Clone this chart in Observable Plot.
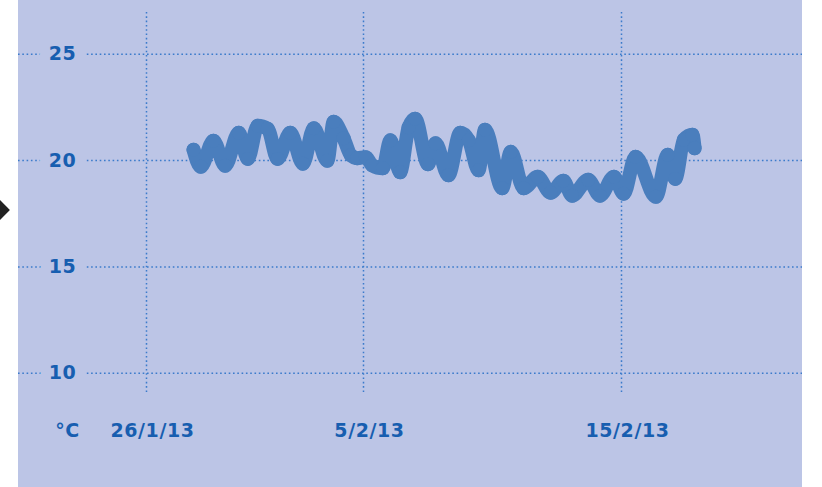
<!DOCTYPE html>
<html>
<head>
<meta charset="utf-8">
<script src="https://cdn.jsdelivr.net/npm/d3@7"></script>
<script src="https://cdn.jsdelivr.net/npm/@observablehq/plot@0.6"></script>
<style>
  html, body { margin: 0; padding: 0; background: #ffffff; width: 822px; height: 487px; overflow: hidden; }
  #wrap { position: absolute; left: 18px; top: 0; width: 784px; height: 487px; background: #bcc5e6; }
  #diamond { position: absolute; left: -7px; top: 203px; width: 14px; height: 14px; background: #222; transform: rotate(45deg); }
  svg text { letter-spacing: 0.6px; }
</style>
</head>
<body>
<div id="diamond"></div>
<div id="wrap"></div>
<script>
// Time stamps (UTC) and temperatures (°C)
const times = [
  "2013-01-28T04:00","2013-01-28T12:00","2013-01-29T02:00","2013-01-29T15:00",
  "2013-01-30T06:00","2013-01-30T16:00","2013-01-31T03:00","2013-01-31T14:00",
  "2013-02-01T01:00","2013-02-01T15:00","2013-02-02T05:00","2013-02-02T17:00",
  "2013-02-03T08:00","2013-02-03T15:00","2013-02-04T02:00","2013-02-04T10:00",
  "2013-02-04T17:00","2013-02-05T02:00","2013-02-05T08:00","2013-02-05T18:00",
  "2013-02-06T01:00","2013-02-06T10:00","2013-02-06T18:00","2013-02-07T00:00",
  "2013-02-07T12:00","2013-02-07T19:00","2013-02-08T07:00","2013-02-08T18:00",
  "2013-02-09T02:00","2013-02-09T11:00","2013-02-09T17:00","2013-02-10T09:00",
  "2013-02-10T17:00","2013-02-11T05:00","2013-02-11T18:00","2013-02-12T06:00",
  "2013-02-12T18:00","2013-02-13T02:00","2013-02-13T17:00","2013-02-14T04:00",
  "2013-02-14T17:00","2013-02-15T02:00","2013-02-15T13:00","2013-02-16T08:00",
  "2013-02-16T19:00","2013-02-17T02:00","2013-02-17T10:00","2013-02-17T18:00",
  "2013-02-17T20:00"
];
const temps = [
  20.51, 19.71, 20.93, 19.76,
  21.31, 20.08, 21.64, 21.50,
  20.08, 21.31, 19.85, 21.52,
  19.99, 21.82, 21.05, 20.25,
  20.11, 20.16, 19.78, 19.64,
  20.95, 19.45, 21.57, 21.97,
  19.83, 20.81, 19.31, 21.31,
  20.95, 19.54, 21.45, 18.70,
  20.41, 18.70, 19.24, 18.49,
  19.05, 18.35, 19.10, 18.35,
  19.24, 18.44, 20.18, 18.30,
  20.27, 19.14, 20.98, 21.21,
  20.58
];
// Axis ticks
const xTickDates = ["2013-01-26", "2013-02-05", "2013-02-15"];
const xTickLabels = ["26/1/13", "5/2/13", "15/2/13"];
const yTicks = [10, 15, 20, 25];
const unitLabel = ["°C"];

const data = times.map((t, i) => ({date: new Date(t + "Z"), temp: temps[i]}));
const xTicks = xTickDates.map((d, i) => ({date: new Date(d + "T00:00Z"), label: xTickLabels[i]}));

const bg = "#bcc5e6";
const gridColor = "#3b7bcb";
const textColor = "#175eb0";
const lineColor = "#4a7ebd";

const chart = Plot.plot({
  width: 784,
  height: 487,
  marginLeft: 0,
  marginRight: 0,
  marginTop: 12,
  marginBottom: 95,
  style: {background: "transparent", fontFamily: "'DejaVu Sans', sans-serif"},
  x: {type: "utc", domain: xTicks.map(d => d.date), range: [128, 345, 603], axis: null},
  y: {domain: [9.1, 26.96], axis: null},
  marks: [
    Plot.ruleY(yTicks, {stroke: gridColor, strokeWidth: 1.5, strokeDasharray: "1.6,2.7"}),
    Plot.ruleX(xTicks, {x: "date", stroke: gridColor, strokeWidth: 1.5, strokeDasharray: "1.6,2.7"}),
    Plot.text(yTicks, {
      y: d => d, text: d => String(d), frameAnchor: "left", dx: 44, textAnchor: "middle",
      fill: textColor, fontSize: 19, fontWeight: "bold",
      stroke: bg, strokeWidth: 22, paintOrder: "stroke"
    }),
    Plot.text(xTicks, {
      x: "date", text: "label", frameAnchor: "bottom", dy: 44, dx: 6,
      fill: textColor, fontSize: 19, fontWeight: "bold"
    }),
    Plot.text(unitLabel, {
      text: d => d, frameAnchor: "bottom-left", dy: 44, dx: 49, textAnchor: "middle",
      fill: textColor, fontSize: 19, fontWeight: "bold"
    }),
    Plot.line(data, {
      x: "date", y: "temp", stroke: lineColor, strokeWidth: 14,
      curve: "monotone-x", strokeLinecap: "round", strokeLinejoin: "round"
    }),
    Plot.dot(data, {x: "date", y: "temp", r: 7, fill: lineColor, stroke: "none"})
  ]
});
document.getElementById("wrap").appendChild(chart);
</script>
</body>
</html>
